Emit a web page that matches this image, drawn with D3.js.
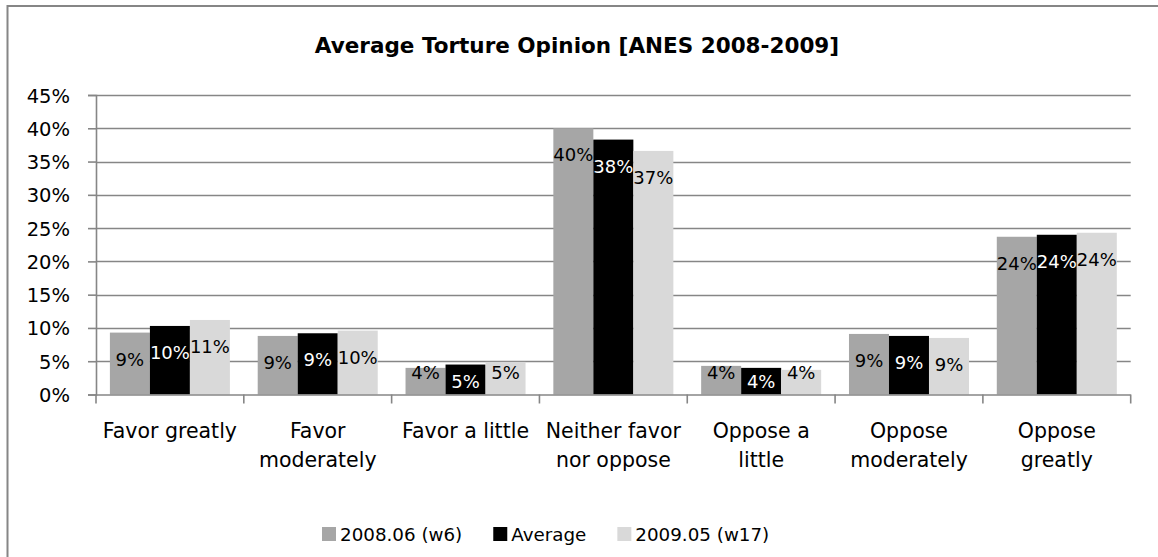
<!DOCTYPE html>
<html>
<head>
<meta charset="utf-8">
<script src="https://cdn.jsdelivr.net/npm/d3@7"></script>
<style>
  html, body { margin: 0; padding: 0; background: #fff; }
  svg { display: block; }
  text { font-family: "DejaVu Sans", sans-serif; }
</style>
</head>
<body>
<svg id="chart" width="1158" height="557"></svg>
<script>
// ---- data ----
const categories = ["Favor greatly", "Favor moderately", "Favor a little", "Neither favor nor oppose", "Oppose a little", "Oppose moderately", "Oppose greatly"];
const seriesNames = ["2008.06 (w6)", "Average", "2009.05 (w17)"];
const w6Values  = [9.3, 8.8, 4.0, 40.0, 4.3, 9.1, 23.7];
const avgValues = [10.3, 9.2, 4.5, 38.3, 4.0, 8.8, 24.0];
const w17Values = [11.2, 9.6, 4.9, 36.6, 3.7, 8.5, 24.3];
const yTicks = [0, 5, 10, 15, 20, 25, 30, 35, 40, 45];
const titleText = "Average Torture Opinion [ANES 2008-2009]";

// ---- styles ----
const seriesColors = ["#A6A6A6", "#000000", "#D9D9D9"];
const labelColors = ["#000000", "#FFFFFF", "#000000"];
const minLift = [22, 12.6, 22];   // minimum distance of label centre above baseline
const gridColor = "#868686";

const svg = d3.select("#chart");
const plot = { left: 96, right: 1130.7, top: 95, bottom: 394.5 };

// chart border
svg.append("rect")
  .attr("x", 7.5).attr("y", 6)
  .attr("width", 1170).attr("height", 570)
  .attr("fill", "#fff").attr("stroke", "#868686").attr("stroke-width", 2);

// title
svg.append("text")
  .attr("x", 577).attr("y", 53)
  .attr("text-anchor", "middle")
  .attr("font-size", 21.5).attr("font-weight", "bold")
  .attr("fill", "#000")
  .text(titleText);

const y = d3.scaleLinear().domain([0, 45]).range([plot.bottom, plot.top]);
const x0 = d3.scaleBand().domain(categories).range([plot.left, plot.right]).padding(0);
const gap = 13.9;
const x1 = d3.scaleBand().domain(seriesNames).range([gap, x0.bandwidth() - gap]).padding(0);

// gridlines
svg.append("g").selectAll("line").data(yTicks.filter(d => d > 0)).join("line")
  .attr("x1", plot.left).attr("x2", plot.right)
  .attr("y1", d => Math.round(y(d)) + 0.5).attr("y2", d => Math.round(y(d)) + 0.5)
  .attr("stroke", gridColor).attr("stroke-width", 1.6);

// y axis
const yAxis = d3.axisLeft(y).tickValues(yTicks).tickFormat(d => d + "%").tickSize(8).tickPadding(8);
const yg = svg.append("g").attr("transform", `translate(${plot.left},0)`).call(yAxis);
yg.select(".domain").attr("stroke", gridColor).attr("stroke-width", 1.6);
yg.selectAll(".tick line").attr("stroke", gridColor).attr("stroke-width", 1.6);
yg.selectAll(".tick text").attr("font-size", 19.5).attr("fill", "#000")
  .attr("font-family", "DejaVu Sans").attr("dy", "0.36em").attr("x", -26);

// series data
const allSeries = [w6Values, avgValues, w17Values];
const barData = [];
categories.forEach((c, i) => {
  seriesNames.forEach((s, j) => {
    barData.push({ cat: c, series: s, si: j, value: allSeries[j][i] });
  });
});

// bars
svg.append("g").selectAll("rect").data(barData).join("rect")
  .attr("x", d => x0(d.cat) + x1(d.series))
  .attr("y", d => y(d.value))
  .attr("width", x1.bandwidth())
  .attr("height", d => y(0) - y(d.value))
  .attr("fill", d => seriesColors[d.si]);

// x axis
svg.append("line")
  .attr("x1", plot.left).attr("x2", plot.right)
  .attr("y1", plot.bottom + 0.5).attr("y2", plot.bottom + 0.5)
  .attr("stroke", gridColor).attr("stroke-width", 1.6);
const boundaries = categories.map(c => x0(c)).concat([plot.right]);
svg.append("g").selectAll("line").data(boundaries).join("line")
  .attr("x1", d => d).attr("x2", d => d)
  .attr("y1", plot.bottom).attr("y2", plot.bottom + 9)
  .attr("stroke", gridColor).attr("stroke-width", 1.6);

// data labels
svg.append("g").selectAll("text").data(barData).join("text")
  .attr("x", d => x0(d.cat) + x1(d.series) + x1.bandwidth() / 2)
  .attr("y", d => Math.min(y(d.value) + 26.5, y(0) - minLift[d.si]))
  .attr("dy", "0.36em")
  .attr("text-anchor", "middle")
  .attr("font-size", 18)
  .attr("fill", d => labelColors[d.si])
  .text(d => Math.round(d.value) + "%");

// category labels with wrapping
const catFont = 20.5;
const catG = svg.append("g");
categories.forEach(c => {
  const cx = x0(c) + x0.bandwidth() / 2;
  const t = catG.append("text").attr("x", cx).attr("y", 438)
    .attr("text-anchor", "middle").attr("font-size", catFont).attr("fill", "#000");
  const words = c.split(" ");
  let line = [];
  let tspan = t.append("tspan").attr("x", cx).attr("dy", 0);
  const maxW = x0.bandwidth() - 4;
  words.forEach(w => {
    line.push(w);
    tspan.text(line.join(" "));
    if (tspan.node().getComputedTextLength() > maxW && line.length > 1) {
      line.pop();
      tspan.text(line.join(" "));
      line = [w];
      tspan = t.append("tspan").attr("x", cx).attr("dy", 29).text(w);
    }
  });
});

// legend
const legend = svg.append("g");
let lx = 322;
seriesNames.forEach((s, j) => {
  legend.append("rect").attr("x", lx).attr("y", 527).attr("width", 14).attr("height", 14)
    .attr("fill", seriesColors[j]);
  const tt = legend.append("text").attr("x", lx + 18).attr("y", 541)
    .attr("font-size", 18.3).attr("fill", "#000").text(s);
  lx += 18 + tt.node().getComputedTextLength() + 31;
});
</script>
</body>
</html>
